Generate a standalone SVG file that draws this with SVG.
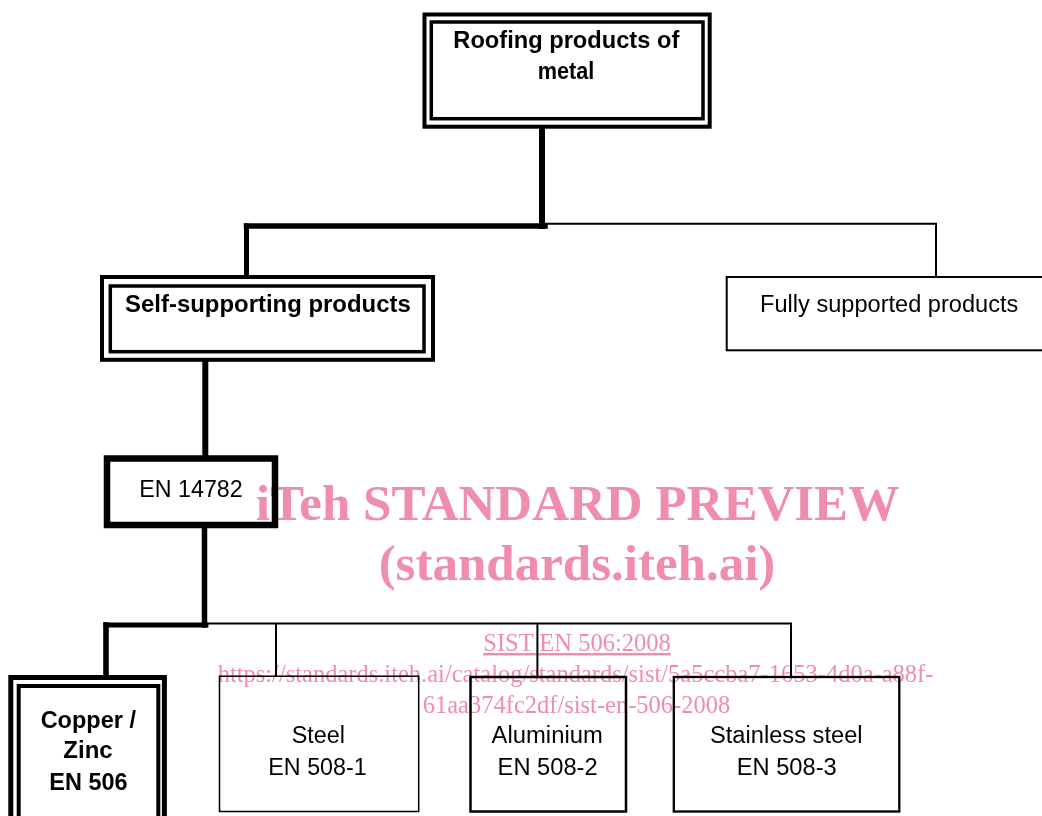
<svg xmlns="http://www.w3.org/2000/svg" width="1042" height="816" viewBox="0 0 1042 816">
<style>
.bg{fill:#ffffff}
.box{fill:none;stroke:#000000}
.t{font-family:"Liberation Sans",Arial,sans-serif;font-size:23px;fill:#000000;text-anchor:middle}
.b{font-weight:bold}
.thick{fill:none;stroke:#000000;stroke-linecap:square;stroke-linejoin:miter}
.thin{fill:none;stroke:#000000;stroke-width:2;stroke-linejoin:miter}
.wm{font-family:"Liberation Serif","Times New Roman",serif;fill:#F08DAC;text-anchor:middle;mix-blend-mode:multiply}
.wmb{font-weight:bold;font-size:51px}
.wmr{font-size:24.5px}
</style>
<rect class="bg" x="0" y="0" width="1042" height="816"/>

<g id="connectors">
  <path class="thin" d="M545 223.7 H936 V277"/>
  <path class="thin" d="M207 623.5 H791 V676"/>
  <path class="thin" d="M276 623.5 V676"/>
  <path class="thin" d="M537.4 623.5 V676"/>
  <path class="thick" stroke-width="6" d="M542 128 V226"/>
  <path class="thick" stroke-width="5.5" d="M545 226 H246.5"/>
  <path class="thick" stroke-width="5" d="M246.5 226 V276"/>
  <path class="thick" stroke-width="6" d="M205.3 362 V456"/>
  <path class="thick" stroke-width="5.5" d="M204.5 528 V625"/>
  <path class="thick" stroke-width="4.8" d="M206 625 H106"/>
  <path class="thick" stroke-width="5.6" d="M106 625 V675"/>
</g>

<g id="node-roofing">
  <rect class="box" stroke-width="4" x="424.5" y="14.5" width="285.2" height="112.2"/>
  <rect class="box" stroke-width="3.5" x="431.3" y="22" width="271.7" height="96.7"/>
  <text class="t b" x="566.3" y="48.3" textLength="226" lengthAdjust="spacingAndGlyphs">Roofing products of</text>
  <text class="t b" x="566" y="79.3" textLength="56.6" lengthAdjust="spacingAndGlyphs">metal</text>
</g>

<g id="node-self">
  <rect class="box" stroke-width="4" x="102" y="277" width="331" height="82.8"/>
  <rect class="box" stroke-width="3.5" x="110.3" y="286" width="313.7" height="65.7"/>
  <text class="t b" x="267.9" y="311.7" textLength="285.7" lengthAdjust="spacingAndGlyphs">Self-supporting products</text>
</g>

<g id="node-fully">
  <rect class="box" stroke-width="2" x="726.7" y="277" width="330" height="73.3"/>
  <text class="t" x="889.2" y="311.7" textLength="258.3" lengthAdjust="spacingAndGlyphs">Fully supported products</text>
</g>

<g id="node-en14782">
  <rect class="box" stroke-width="6.5" x="107" y="458.5" width="168" height="66.5"/>
  <text class="t" x="191" y="497.3" textLength="103.4" lengthAdjust="spacingAndGlyphs">EN 14782</text>
</g>

<g id="node-copper">
  <rect class="box" stroke-width="5" x="10.8" y="677.5" width="153.6" height="160"/>
  <rect class="box" stroke-width="4" x="18.7" y="686" width="139.6" height="150"/>
  <text class="t b" x="88.3" y="728" textLength="95.3" lengthAdjust="spacingAndGlyphs">Copper /</text>
  <text class="t b" x="88" y="758.3" textLength="49.3" lengthAdjust="spacingAndGlyphs">Zinc</text>
  <text class="t b" x="88.5" y="790" textLength="78.3" lengthAdjust="spacingAndGlyphs">EN 506</text>
</g>

<g id="node-steel">
  <rect class="box" stroke-width="1.5" x="219.5" y="676.2" width="199.2" height="135.3"/>
  <text class="t" x="318.3" y="743.3" textLength="53.3" lengthAdjust="spacingAndGlyphs">Steel</text>
  <text class="t" x="317.5" y="775" textLength="98.3" lengthAdjust="spacingAndGlyphs">EN 508-1</text>
</g>

<g id="node-aluminium">
  <rect class="box" stroke-width="2.5" x="470.5" y="677" width="155.5" height="134.5"/>
  <text class="t" x="547.2" y="743.3" textLength="111.2" lengthAdjust="spacingAndGlyphs">Aluminium</text>
  <text class="t" x="547.6" y="775" textLength="100" lengthAdjust="spacingAndGlyphs">EN 508-2</text>
</g>

<g id="node-stainless">
  <rect class="box" stroke-width="2.3" x="673.8" y="677" width="225.5" height="134.5"/>
  <text class="t" x="786.3" y="743.3" textLength="152.7" lengthAdjust="spacingAndGlyphs">Stainless steel</text>
  <text class="t" x="786.7" y="775" textLength="100" lengthAdjust="spacingAndGlyphs">EN 508-3</text>
</g>

<g id="watermark">
  <text class="wm wmb" x="577.5" y="520">iTeh STANDARD PREVIEW</text>
  <text class="wm wmb" x="577" y="580">(standards.iteh.ai)</text>
  <text class="wm wmr" x="577" y="651" text-decoration="underline">SIST EN 506:2008</text>
  <text class="wm wmr" x="575.5" y="682">https://standards.iteh.ai/catalog/standards/sist/5a5ccba7-1653-4d0a-a88f-</text>
  <text class="wm wmr" x="576.5" y="713">61aa374fc2df/sist-en-506-2008</text>
</g>
</svg>
